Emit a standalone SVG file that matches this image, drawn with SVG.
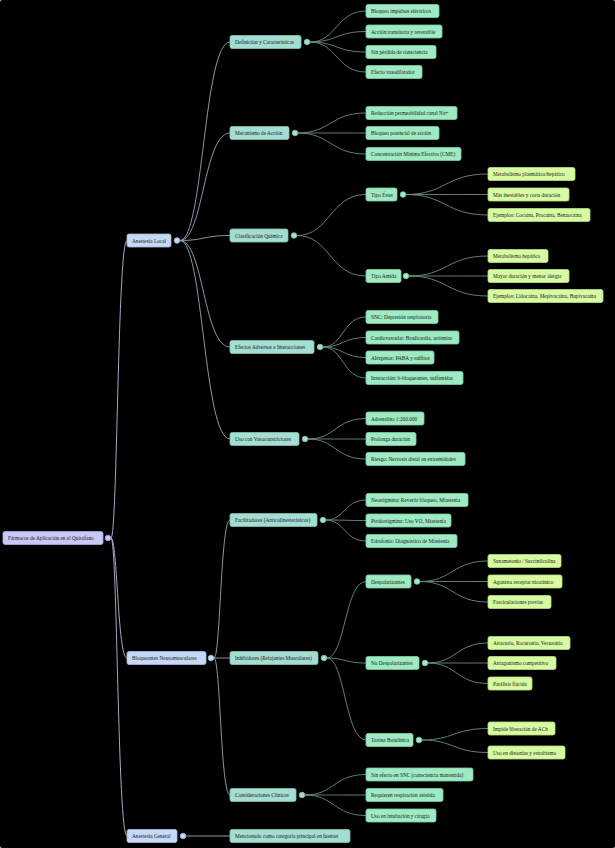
<svg xmlns="http://www.w3.org/2000/svg" width="615" height="848" viewBox="0 0 615 848">
<style>
text{font-family:"Liberation Serif",serif;font-size:5.3px;fill:#1a1a1a}
rect{rx:2;stroke-width:0.8}
.r0{fill:#c8c9f7;stroke:#a9abe0}
.r1{fill:#c5d8f6;stroke:#a5b9dd}
.r2{fill:#a4ddd2;stroke:#86bfb3}
.r3{fill:#9eeac3;stroke:#7fcca4}
.r4{fill:#d7fba1;stroke:#b8dc82}
.c{stroke-width:0.8}
path{fill:none;stroke-width:0.9}
.l0 path{stroke:#b8bbd8}
.l1 path{stroke:#9aa8b5}
.l2 path{stroke:#6f8c80}
</style>
<rect width="615" height="848" fill="#000"/>
<g id="connectors">
<g class="l0">
<path d="M111,538 C117.5,538 117.5,240.5 127,240.5"/>
<path d="M111,538 C117.5,538 117.5,658 127,658"/>
<path d="M111,538 C117.5,538 117.5,836 127,836"/>
</g>
<g class="l1">
<path d="M180,240.5 C203.5,240.5 203.5,42 230,42"/>
<path d="M180,240.5 C203.5,240.5 203.5,133 230,133"/>
<path d="M180,240.5 C203.5,240.5 203.5,235.5 230,235.5"/>
<path d="M180,240.5 C203.5,240.5 203.5,347 230,347"/>
<path d="M180,240.5 C203.5,240.5 203.5,439 230,439"/>
<path d="M214,658 C220.5,658 220.5,520 230,520"/>
<path d="M214,658 C220.5,658 220.5,658 230,658"/>
<path d="M214,658 C220.5,658 220.5,795 230,795"/>
<path d="M186,836 L230,836"/>
</g>
<g class="l2">
<path d="M310,42 C336.5,42 336.5,11 366,11"/>
<path d="M310,42 C336.5,42 336.5,31.5 366,31.5"/>
<path d="M310,42 C336.5,42 336.5,52 366,52"/>
<path d="M310,42 C336.5,42 336.5,72 366,72"/>
<path d="M298,133 C330.5,133 330.5,113 366,113"/>
<path d="M298,133 C330.5,133 330.5,133 366,133"/>
<path d="M298,133 C330.5,133 330.5,154 366,154"/>
<path d="M297,235.5 C330,235.5 330,194.5 366,194.5"/>
<path d="M297,235.5 C330,235.5 330,276 366,276"/>
<path d="M406,194.5 C445.5,194.5 445.5,174 488,174"/>
<path d="M406,194.5 C445.5,194.5 445.5,194.5 488,194.5"/>
<path d="M406,194.5 C445.5,194.5 445.5,215 488,215"/>
<path d="M409,276 C447,276 447,256 488,256"/>
<path d="M409,276 C447,276 447,276 488,276"/>
<path d="M409,276 C447,276 447,296 488,296"/>
<path d="M323,347 C343,347 343,317 366,317"/>
<path d="M323,347 C343,347 343,337.5 366,337.5"/>
<path d="M323,347 C343,347 343,357.5 366,357.5"/>
<path d="M323,347 C343,347 343,378 366,378"/>
<path d="M308,439 C335.5,439 335.5,418.5 366,418.5"/>
<path d="M308,439 C335.5,439 335.5,439 366,439"/>
<path d="M308,439 C335.5,439 335.5,459 366,459"/>
<path d="M326,520 C344.5,520 344.5,500 366,500"/>
<path d="M326,520 C344.5,520 344.5,520.5 366,520.5"/>
<path d="M326,520 C344.5,520 344.5,541 366,541"/>
<path d="M327,658 C345,658 345,581.5 366,581.5"/>
<path d="M327,658 C345,658 345,663 366,663"/>
<path d="M327,658 C345,658 345,740 366,740"/>
<path d="M420,581.5 C452.5,581.5 452.5,561 488,561"/>
<path d="M420,581.5 C452.5,581.5 452.5,581.5 488,581.5"/>
<path d="M420,581.5 C452.5,581.5 452.5,602 488,602"/>
<path d="M428,663 C456.5,663 456.5,643 488,643"/>
<path d="M428,663 C456.5,663 456.5,663 488,663"/>
<path d="M428,663 C456.5,663 456.5,683.5 488,683.5"/>
<path d="M422,740 C453.5,740 453.5,728.5 488,728.5"/>
<path d="M422,740 C453.5,740 453.5,752.5 488,752.5"/>
<path d="M305,795 C334,795 334,774.5 366,774.5"/>
<path d="M305,795 C334,795 334,795 366,795"/>
<path d="M305,795 C334,795 334,815.5 366,815.5"/>
</g>
</g>
<g id="root"><rect class="r0" x="3" y="531.5" width="100" height="13"/><text x="8" y="540">Fármacos de Aplicación en el Quirófano</text><circle class="c r0" cx="108" cy="538" r="2.8"/></g>
<g id="al"><rect class="r1" x="127" y="234" width="44" height="13"/><text x="132" y="242.5">Anestesia Local</text><circle class="c r1" cx="177" cy="240.5" r="2.8"/></g>
<g id="bn"><rect class="r1" x="127" y="651.5" width="79" height="13"/><text x="132" y="660">Bloqueantes Neuromusculares</text><circle class="c r1" cx="211" cy="658" r="2.8"/></g>
<g id="ag"><rect class="r1" x="127" y="829.5" width="50" height="13"/><text x="132" y="838">Anestesia General</text><circle class="c r1" cx="183" cy="836" r="2.8"/></g>
<g id="def"><rect class="r2" x="230" y="35.5" width="71" height="13"/><text x="235" y="44">Definición y Características</text><circle class="c r2" cx="307" cy="42" r="2.8"/></g>
<g id="mec"><rect class="r2" x="230" y="126.5" width="59" height="13"/><text x="235" y="135">Mecanismo de Acción</text><circle class="c r2" cx="295" cy="133" r="2.8"/></g>
<g id="cla"><rect class="r2" x="230" y="229" width="58" height="13"/><text x="235" y="237.5">Clasificación Química</text><circle class="c r2" cx="294" cy="235.5" r="2.8"/></g>
<g id="efe"><rect class="r2" x="230" y="340.5" width="84" height="13"/><text x="235" y="349">Efectos Adversos e Interacciones</text><circle class="c r2" cx="320" cy="347" r="2.8"/></g>
<g id="vas"><rect class="r2" x="230" y="432.5" width="69" height="13"/><text x="235" y="441">Uso con Vasoconstrictores</text><circle class="c r2" cx="305" cy="439" r="2.8"/></g>
<g id="fac"><rect class="r2" x="230" y="513.5" width="87" height="13"/><text x="235" y="522">Facilitadores (Anticolinesterásicos)</text><circle class="c r2" cx="323" cy="520" r="2.8"/></g>
<g id="inh"><rect class="r2" x="230" y="651.5" width="88" height="13"/><text x="235" y="660">Inhibidores (Relajantes Musculares)</text><circle class="c r2" cx="324" cy="658" r="2.8"/></g>
<g id="con"><rect class="r2" x="230" y="788.5" width="66" height="13"/><text x="235" y="797">Consideraciones Clínicas</text><circle class="c r2" cx="302" cy="795" r="2.8"/></g>
<g id="men"><rect class="r2" x="230" y="829.5" width="120" height="13"/><text x="235" y="838">Mencionado como categoría principal en fuentes</text></g>
<g id="d1"><rect class="r3" x="366" y="4.5" width="73" height="13"/><text x="371" y="13">Bloqueo impulsos eléctricos</text></g>
<g id="d2"><rect class="r3" x="366" y="25" width="76" height="13"/><text x="371" y="33.5">Acción transitoria y reversible</text></g>
<g id="d3"><rect class="r3" x="366" y="45.5" width="70" height="13"/><text x="371" y="54">Sin pérdida de consciencia</text></g>
<g id="d4"><rect class="r3" x="366" y="65.5" width="56" height="13"/><text x="371" y="74">Efecto vasodilatador</text></g>
<g id="m1"><rect class="r3" x="366" y="106.5" width="91" height="13"/><text x="371" y="115">Reducción permeabilidad canal Na+</text></g>
<g id="m2"><rect class="r3" x="366" y="126.5" width="73" height="13"/><text x="371" y="135">Bloqueo potencial de acción</text></g>
<g id="m3"><rect class="r3" x="366" y="147.5" width="95" height="13"/><text x="371" y="156">Concentración Mínima Efectiva (CME)</text></g>
<g id="est"><rect class="r3" x="366" y="188" width="31" height="13"/><text x="371" y="196.5">Tipo Éster</text><circle class="c r3" cx="403" cy="194.5" r="2.8"/></g>
<g id="e1"><rect class="r4" x="488" y="167.5" width="87" height="13"/><text x="493" y="176">Metabolismo plasmático/hepático</text></g>
<g id="e2"><rect class="r4" x="488" y="188" width="81" height="13"/><text x="493" y="196.5">Más inestables y corta duración</text></g>
<g id="e3"><rect class="r4" x="488" y="208.5" width="102" height="13"/><text x="493" y="217">Ejemplos: Cocaína, Procaína, Benzocaína</text></g>
<g id="ami"><rect class="r3" x="366" y="269.5" width="35" height="13"/><text x="371" y="278">Tipo Amida</text><circle class="c r3" cx="406" cy="276" r="2.8"/></g>
<g id="a1"><rect class="r4" x="488" y="249.5" width="60" height="13"/><text x="493" y="258">Metabolismo hepático</text></g>
<g id="a2"><rect class="r4" x="488" y="269.5" width="81" height="13"/><text x="493" y="278">Mayor duración y menor alergia</text></g>
<g id="a3"><rect class="r4" x="488" y="289.5" width="115" height="13"/><text x="493" y="298">Ejemplos: Lidocaína, Mepivacaína, Bupivacaína</text></g>
<g id="f1"><rect class="r3" x="366" y="310.5" width="72" height="13"/><text x="371" y="319">SNC: Depresión respiratoria</text></g>
<g id="f2"><rect class="r3" x="366" y="331" width="93" height="13"/><text x="371" y="339.5">Cardiovascular: Bradicardia, arritmias</text></g>
<g id="f3"><rect class="r3" x="366" y="351" width="68" height="13"/><text x="371" y="359.5">Alérgenos: PABA y sulfitos</text></g>
<g id="f4"><rect class="r3" x="366" y="371.5" width="97" height="13"/><text x="371" y="380">Interacción: b-bloqueantes, sulfamidas</text></g>
<g id="v1"><rect class="r3" x="366" y="412" width="58" height="13"/><text x="371" y="420.5">Adrenalina 1:200.000</text></g>
<g id="v2"><rect class="r3" x="366" y="432.5" width="50" height="13"/><text x="371" y="441">Prolonga duración</text></g>
<g id="v3"><rect class="r3" x="366" y="452.5" width="99" height="13"/><text x="371" y="461">Riesgo: Necrosis distal en extremidades</text></g>
<g id="c1"><rect class="r3" x="366" y="493.5" width="102" height="13"/><text x="371" y="502">Neostigmina: Revertir bloqueo, Miastenia</text></g>
<g id="c2"><rect class="r3" x="366" y="514" width="85" height="13"/><text x="371" y="522.5">Piridostigmina: Uso VO, Miastenia</text></g>
<g id="c3"><rect class="r3" x="366" y="534.5" width="91" height="13"/><text x="371" y="543">Edrofonio: Diagnóstico de Miastenia</text></g>
<g id="des"><rect class="r3" x="366" y="575" width="45" height="13"/><text x="371" y="583.5">Despolarizantes</text><circle class="c r3" cx="417" cy="581.5" r="2.8"/></g>
<g id="s1"><rect class="r4" x="488" y="554.5" width="73" height="13"/><text x="493" y="563">Suxametonio / Succinilcolina</text></g>
<g id="s2"><rect class="r4" x="488" y="575" width="74" height="13"/><text x="493" y="583.5">Agonista receptor nicotínico</text></g>
<g id="s3"><rect class="r4" x="488" y="595.5" width="63" height="13"/><text x="493" y="604">Fasciculaciones previas</text></g>
<g id="nod"><rect class="r3" x="366" y="656.5" width="53" height="13"/><text x="371" y="665">No Despolarizantes</text><circle class="c r3" cx="425" cy="663" r="2.8"/></g>
<g id="n1"><rect class="r4" x="488" y="636.5" width="82" height="13"/><text x="493" y="645">Atracurio, Rocuronio, Vecuronio</text></g>
<g id="n2"><rect class="r4" x="488" y="656.5" width="68" height="13"/><text x="493" y="665">Antagonismo competitivo</text></g>
<g id="n3"><rect class="r4" x="488" y="677" width="44" height="13"/><text x="493" y="685.5">Parálisis flácida</text></g>
<g id="tox"><rect class="r3" x="366" y="733.5" width="47" height="13"/><text x="371" y="742">Toxina Botulínica</text><circle class="c r3" cx="419" cy="740" r="2.8"/></g>
<g id="t1"><rect class="r4" x="488" y="722" width="67" height="13"/><text x="493" y="730.5">Impide liberación de ACh</text></g>
<g id="t2"><rect class="r4" x="488" y="746" width="77" height="13"/><text x="493" y="754.5">Uso en distonías y estrabismo</text></g>
<g id="k1"><rect class="r3" x="366" y="768" width="107" height="13"/><text x="371" y="776.5">Sin efecto en SNC (consciencia mantenida)</text></g>
<g id="k2"><rect class="r3" x="366" y="788.5" width="77" height="13"/><text x="371" y="797">Requieren respiración asistida</text></g>
<g id="k3"><rect class="r3" x="366" y="809" width="70" height="13"/><text x="371" y="817.5">Uso en intubación y cirugía</text></g>
</svg>
